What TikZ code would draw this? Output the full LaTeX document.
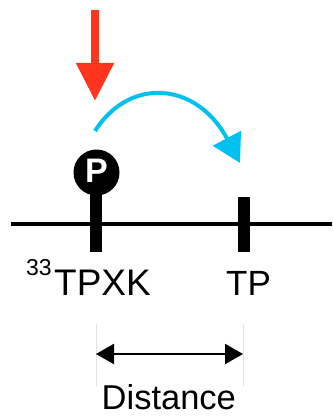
\documentclass[tikz,border=0pt]{standalone}
\usepackage{fontspec}
\setmainfont{Liberation Sans}
\usetikzlibrary{arrows.meta}
\definecolor{redarrow}{RGB}{255,52,28}
\definecolor{bluearrow}{RGB}{0,192,240}
\begin{document}
\begin{tikzpicture}[x=1pt,y=-1pt,
  label/.style={inner sep=0pt,anchor=base west,font=\fontsize{37}{37}\selectfont},
  tick/.style={line width=12pt},
  guide/.style={line width=0.8pt,black!12}]
\useasboundingbox (0,0) rectangle (332,417);
% backbone
\coordinate (bbL) at (11,224);
\coordinate (bbR) at (332,224);
\draw[line width=4pt] (bbL) -- (bbR);
% phospho site
\coordinate (s1b) at (96,252);
\coordinate (s2t) at (243.5,197);
\coordinate (s2b) at (243.5,252);
\draw[tick] (96,185) -- (s1b);
\draw[tick] (s2t) -- (s2b);
\node[circle,fill=black,minimum size=46pt,inner sep=0pt] (pc) at (96.5,172.5) {};
\node[text=white,font=\fontsize{34}{34}\selectfont\bfseries,inner sep=0pt] (pl) at (96.5,171) {P};
% red arrow
\coordinate (rt) at (95,10);
\coordinate (rb) at (95,101);
\draw[redarrow,line width=8pt,-{Triangle[length=38pt,width=36pt]}] (rt) -- (rb);
% blue arc
\coordinate (bs) at (95,131);
\coordinate (be) at (240,163);
\draw[bluearrow,line width=4pt,-{Triangle[length=28pt,width=31pt]}] (bs) .. controls (130,76) and (197,82) .. (be);
% labels
\node[inner sep=0pt,anchor=base west,font=\fontsize{23}{23}\selectfont] (sup) at (26,275) {33};
\node[label] (l1) at (54,295) {TPXK};
\node[label,font=\fontsize{35}{35}\selectfont] (l2) at (226,295) {TP};
% distance
\coordinate (g1t) at (96,324);
\coordinate (g1b) at (96,386);
\coordinate (g2t) at (243,324);
\coordinate (g2b) at (243,386);
\draw[guide] (g1t) -- (g1b);
\draw[guide] (g2t) -- (g2b);
\coordinate (dL) at (96,354);
\coordinate (dR) at (243,354);
\draw[line width=2pt,{Triangle[length=18pt,width=20pt]}-{Triangle[length=18pt,width=20pt]}] (dL) -- (dR);
\node[label,font=\fontsize{34.5}{34.5}\selectfont,text depth=0pt] (dist) at (101.5,409) {Distance};
\end{tikzpicture}
\end{document}
